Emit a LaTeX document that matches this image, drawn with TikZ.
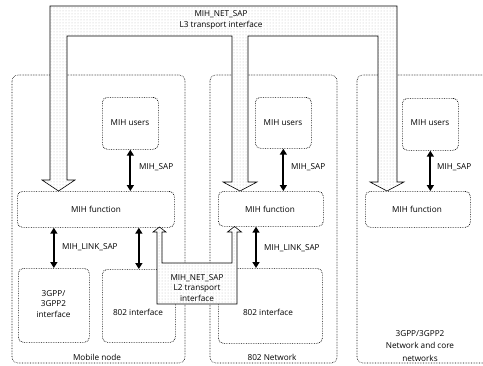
\documentclass[tikz,border=0pt]{standalone}
\usepackage{fontspec}
\setmainfont{Open Sans}
\usetikzlibrary{arrows.meta,patterns}
\begin{document}
\begin{tikzpicture}[x=1pt,y=-1pt,
  every node/.style={font=\fontsize{8.2}{10.5}\selectfont, inner sep=0pt},
  container/.style={draw=black, densely dotted, line width=0.6pt, rounded corners=6pt},
  box/.style={draw=black, densely dotted, line width=0.7pt, rounded corners=5pt, fill=white, anchor=north west},
  pipe/.style={draw=black, line width=0.6pt, preaction={fill=white}, pattern=dots, pattern color=black!25},
  sap/.style={{Triangle[length=6pt,width=7pt]}-{Triangle[length=6pt,width=7pt]}, line width=2pt},
  lbl/.style={anchor=west}
]
\useasboundingbox (0,0) rectangle (483,365);
\begin{scope}
\clip (0,0) rectangle (483,365);
% containers
\draw[container] (12,75) rectangle (185,363);
\draw[container] (210,75) rectangle (337,363);
\draw[container] (357,75) rectangle (500,363);
\end{scope}

% L3 transport pipe
\draw[pipe] (50,6) -- (397,6) -- (397,182) -- (404,182) -- (387,191) -- (370,182) -- (378,182) -- (378,36)
  -- (248,36) -- (248,182) -- (257,182) -- (240,191) -- (223,182) -- (232,182) -- (232,36)
  -- (67,36) -- (67,180) -- (75,180) -- (58.5,191) -- (42,180) -- (50,180) -- cycle;
\node[align=center] (l3) at (221,20) {MIH\_NET\_SAP\\L3 transport interface};

% Mobile node
\node[box, minimum width=56pt, minimum height=52pt] (mu1) at (102,97) {};
\node (mu1t) at (130,123) {MIH users};
\node[box, minimum width=157pt, minimum height=36pt] (mf1) at (17,191) {};
\node (mf1t) at (96,209) {MIH function};
\node[box, minimum width=71pt, minimum height=74pt] (if1) at (18,268) {};
\node[align=center] (if1t) at (53.5,304) {3GPP/\\3GPP2\\interface};
\node[box, minimum width=73pt, minimum height=73pt] (if2) at (102,269) {};
\node (if2t) at (138,312) {802 interface};
\node (mn) at (97,357) {Mobile node};
\draw[sap] (mu1.south) -- (mu1.south |- mf1.north);
\node[lbl] (sap1) at (139,167) {MIH\_SAP};
\draw[sap] (if1.north) -- (if1.north |- mf1.south);
\draw[sap] (if2.north) -- (if2.north |- mf1.south);
\node[lbl] (lsap1) at (62,247) {MIH\_LINK\_SAP};

% 802 network
\node[box, minimum width=56pt, minimum height=51pt] (mu2) at (255,97) {};
\node (mu2t) at (283,123) {MIH users};
\node[box, minimum width=105pt, minimum height=35pt] (mf2) at (218,191) {};
\node (mf2t) at (270,209) {MIH function};
\node[box, minimum width=104pt, minimum height=75pt] (if3) at (218,268) {};
\node (if3t) at (268,312) {802 interface};
\node (nw) at (272,357) {802 Network};
\draw[sap] (mu2.south) -- (mu2.south |- mf2.north);
\node[lbl] (sap2) at (291,167) {MIH\_SAP};
\coordinate (if3a) at ([xshift=38pt]if3.north west);
\draw[sap] (if3a) -- (if3a |- mf2.south);
\node[lbl] (lsap2) at (264,248) {MIH\_LINK\_SAP};

% 3GPP network
\node[box, minimum width=56pt, minimum height=52pt] (mu3) at (402,98) {};
\node (mu3t) at (430,123) {MIH users};
\node[box, minimum width=105pt, minimum height=36pt] (mf3) at (365,191) {};
\node (mf3t) at (417,209) {MIH function};
\draw[sap] (mu3.south) -- (mu3.south |- mf3.north);
\node[lbl] (sap3) at (437,167) {MIH\_SAP};
\node[align=center, font=\fontsize{8.2}{12.5}\selectfont] (cn) at (420,346) {3GPP/3GPP2\\Network and core\\networks};

% L2 transport
\draw[pipe] (157,304) -- (237,304) -- (237,232) -- (241.5,232) -- (234.5,226.5) -- (227.5,232) -- (232,232)
  -- (232,263) -- (162,263) -- (162,232) -- (166,232) -- (159.5,227) -- (153,232) -- (157,232) -- cycle;
\node[align=center] (l2) at (197,288) {MIH\_NET\_SAP\\L2 transport\\interface};
\end{tikzpicture}
\end{document}
